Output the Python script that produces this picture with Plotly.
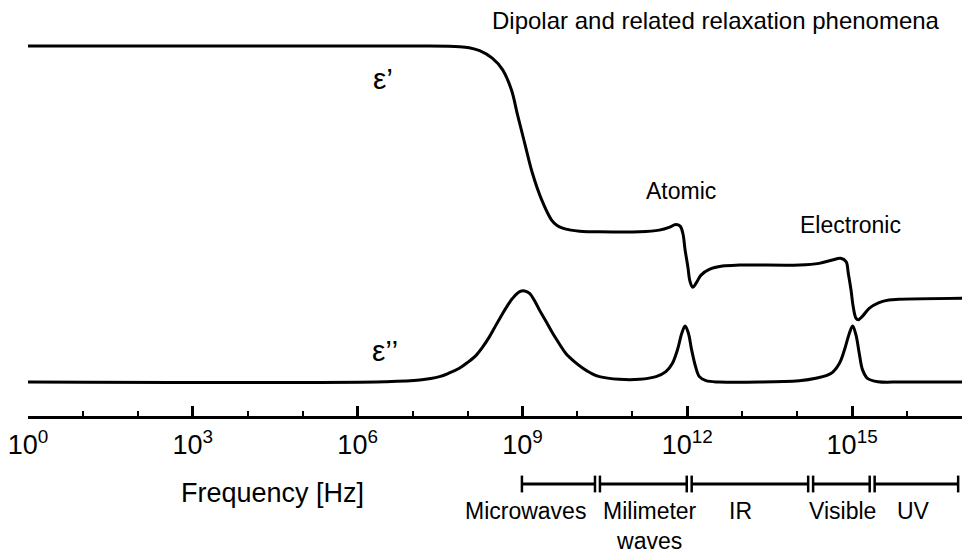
import plotly.graph_objects as go

# ---- data (x in log10 of frequency [Hz], y in arbitrary permittivity units) ----
eps_real_logf = [0, 7.13, 7.85, 8.03, 8.22, 8.45, 8.64, 8.80, 8.91, 9.04, 9.18, 9.35, 9.53, 9.63, 9.73, 9.88, 10.04, 10.4,
                 11.13, 11.49, 11.67, 11.79, 11.87, 11.92, 11.96, 12.01, 12.05, 12.10, 12.16, 12.25, 12.4, 12.64, 12.95,
                 14.04, 14.4, 14.64, 14.79, 14.89, 14.93, 14.98, 15.02, 15.07, 15.11, 15.19, 15.31, 15.49, 15.67, 15.85, 17.0]
eps_real = [10.0, 10.0, 9.98, 9.95, 9.86, 9.64, 9.29, 8.69, 7.95, 7.11, 6.22, 5.42, 4.82, 4.66, 4.58, 4.52, 4.49, 4.47,
            4.47, 4.52, 4.60, 4.69, 4.64, 4.42, 3.93, 3.43, 2.99, 2.82, 2.94, 3.18, 3.35, 3.45, 3.48,
            3.48, 3.53, 3.63, 3.68, 3.58, 3.24, 2.74, 2.24, 1.90, 1.85, 1.96, 2.19, 2.36, 2.44, 2.46, 2.49]

eps_imag_logf = [0, 6.5, 7.13, 7.49, 7.67, 7.85, 8.0, 8.16, 8.28, 8.4, 8.52, 8.64, 8.73, 8.82, 8.95, 9.04, 9.13, 9.22,
                 9.31, 9.43, 9.55, 9.67, 9.79, 9.95, 10.1, 10.25, 10.4, 10.76,
                 11.13, 11.43, 11.61, 11.73, 11.82, 11.9, 11.96, 12.02, 12.08, 12.15, 12.22, 12.34, 12.58,
                 14.04, 14.34, 14.62, 14.77, 14.86, 14.95, 15.01, 15.07, 15.13, 15.19, 15.28, 15.47, 15.89, 17.0]
eps_imag = [0.0, 0.01, 0.06, 0.16, 0.27, 0.41, 0.58, 0.80, 1.05, 1.35, 1.70, 2.04, 2.28, 2.49, 2.69, 2.71, 2.64, 2.42,
            2.14, 1.80, 1.45, 1.14, 0.85, 0.60, 0.41, 0.26, 0.16, 0.08,
            0.08, 0.16, 0.31, 0.56, 0.95, 1.45, 1.67, 1.45, 0.95, 0.46, 0.16, 0.04, 0.0,
            0.04, 0.11, 0.26, 0.56, 0.95, 1.45, 1.67, 1.40, 0.85, 0.36, 0.11, 0.01, 0.0, 0.0]

tick_vals = [0, 3, 6, 9, 12, 15]
tick_text = ["10<sup>0</sup>", "10<sup>3</sup>", "10<sup>6</sup>", "10<sup>9</sup>", "10<sup>12</sup>", "10<sup>15</sup>"]

band_names = ["Microwaves", "Milimeter<br>waves", "IR", "Visible", "UV"]
band_start = [8.99, 10.41, 12.08, 14.29, 15.41]
band_end = [10.32, 11.99, 14.20, 15.32, 16.93]
band_label_x = [9.05, 11.32, 12.96, 14.83, 16.11]

# ---- layout helpers ----
W, H = 963, 560
L, R = 28, 1
X0, X1 = 0.0, 17.0
PXY = 33.6          # pixels per y unit
Y_ZERO_PX = 382     # pixel row of y = 0
Y_MIN = -(H - Y_ZERO_PX) / PXY
Y_MAX = Y_ZERO_PX / PXY
AXIS_PX = 417


def xd(px):
    return X0 + (px - L) / (W - L - R) * (X1 - X0)


def yd(py):
    return (Y_ZERO_PX - py) / PXY


FONT = "Liberation Sans, Arial, sans-serif"
line_style = dict(color="black", width=3, shape="spline", smoothing=1.0)

fig = go.Figure()
fig.add_trace(go.Scatter(x=eps_real_logf, y=eps_real, mode="lines", line=line_style,
                         hoverinfo="skip", showlegend=False))
fig.add_trace(go.Scatter(x=eps_imag_logf, y=eps_imag, mode="lines", line=line_style,
                         hoverinfo="skip", showlegend=False))

band_y = yd(484)
for s, e in zip(band_start, band_end):
    fig.add_trace(go.Scatter(x=[s, e], y=[band_y, band_y], mode="lines+markers",
                             line=dict(color="black", width=3),
                             marker=dict(symbol="line-ns", size=12, line=dict(color="black", width=2.5)),
                             hoverinfo="skip", showlegend=False))

annotations = []
for name, lx in zip(band_names, band_label_x):
    annotations.append(dict(x=lx, y=yd(496), xref="x", yref="y", text=name, showarrow=False,
                            xanchor="center", yanchor="top", align="center",
                            font=dict(family=FONT, size=23, color="black")))

annotations += [
    dict(x=xd(716), y=yd(20), xref="x", yref="y", text="Dipolar and related relaxation phenomena",
         showarrow=False, font=dict(family=FONT, size=24, color="black")),
    dict(x=xd(383), y=yd(78), xref="x", yref="y", text="ε’", showarrow=False,
         font=dict(family=FONT, size=30, color="black")),
    dict(x=xd(385), y=yd(350), xref="x", yref="y", text="ε’’", showarrow=False,
         font=dict(family=FONT, size=30, color="black")),
    dict(x=xd(681), y=yd(191), xref="x", yref="y", text="Atomic", showarrow=False,
         font=dict(family=FONT, size=23, color="black")),
    dict(x=xd(850), y=yd(225), xref="x", yref="y", text="Electronic", showarrow=False,
         font=dict(family=FONT, size=23, color="black")),
    dict(x=xd(272), y=yd(493), xref="x", yref="y", text="Frequency [Hz]", showarrow=False,
         font=dict(family=FONT, size=27, color="black")),
]

fig.update_layout(
    width=W, height=H,
    margin=dict(l=L, r=R, t=0, b=0),
    paper_bgcolor="white", plot_bgcolor="white",
    xaxis=dict(range=[X0, X1], anchor="free", position=(H - AXIS_PX) / H,
               showline=True, linecolor="black", linewidth=2.5,
               showgrid=False, zeroline=False,
               tickmode="array", tickvals=tick_vals, ticktext=tick_text,
               ticks="inside", ticklen=10, tickwidth=2.5, tickcolor="black",
               ticklabelstandoff=3,
               tickfont=dict(family=FONT, size=27, color="black"),
               minor=dict(dtick=1, ticks="inside", ticklen=5, tickwidth=2, tickcolor="black", showgrid=False)),
    yaxis=dict(range=[Y_MIN, Y_MAX], visible=False, showgrid=False, zeroline=False),
    annotations=annotations,
)

fig.write_html("out.html")
